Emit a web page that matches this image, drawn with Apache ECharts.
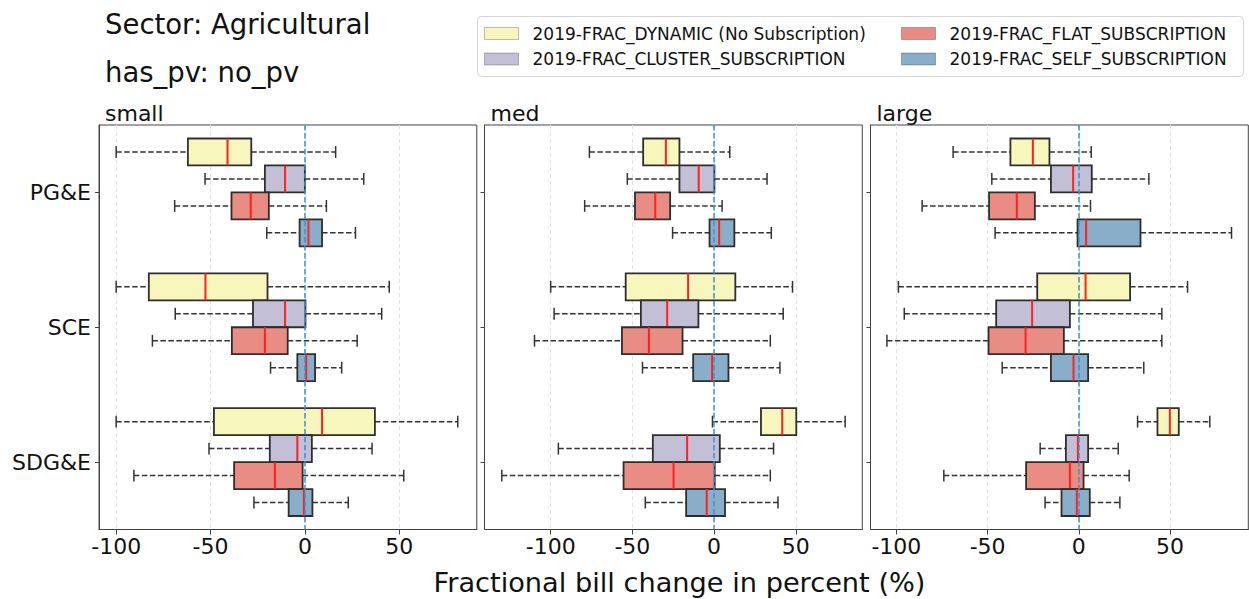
<!DOCTYPE html>
<html>
<head>
<meta charset="utf-8">
<script src="https://cdn.jsdelivr.net/npm/echarts@6/dist/echarts.min.js"></script>
<style>
  html, body { margin: 0; padding: 0; background: #fff; }
  #chart { width: 1249px; height: 599px; }
</style>
</head>
<body>
<div id="chart"></div>
<script>
// ---------------- data ----------------
const categories = ['PG&E', 'SCE', 'SDG&E'];
const panelNames = ['small', 'med', 'large'];
const seriesNames = [
  '2019-FRAC_DYNAMIC (No Subscription)',
  '2019-FRAC_CLUSTER_SUBSCRIPTION',
  '2019-FRAC_FLAT_SUBSCRIPTION',
  '2019-FRAC_SELF_SUBSCRIPTION'
];
const xAxisTitle = 'Fractional bill change in percent (%)';
const mainTitle = 'Sector: Agricultural';
const subTitle = 'has_pv: no_pv';
const xMin = [-109.1, -140.5, -114.2];
const xMax = [91.1, 90.7, 92.9];

// each row: [min, q1, median, q3, max] for PG&E, SCE, SDG&E
const smallDynamic = [[-100, -62, -41, -28.4, 16.3], [-100, -82.7, -52.7, -19.8, 44.7], [-100, -48.2, 9.1, 37.1, 81]];
const smallCluster = [[-52.9, -21.2, -10.5, 0, 31.2], [-68.7, -27.5, -10.5, 0.3, 40.7], [-50.8, -18.6, -4, 3.7, 35.6]];
const smallFlat = [[-69, -38.9, -28.7, -19.1, 11.4], [-80.8, -38.7, -21.2, -9.1, 27.7], [-90.6, -37.5, -15.9, -1.2, 52.4]];
const smallSelf = [[-20.2, -2.8, 1.9, 9.1, 26.8], [-18.2, -4, 0.7, 5.4, 19.5], [-27, -8.6, -0.5, 4, 23]];

const medDynamic = [[-76.3, -43.4, -29.5, -21.2, 9.6], [-100, -54.1, -15.9, 13, 48], [-1, 28.7, 41.7, 50.3, 80.2]];
const medCluster = [[-53.1, -21.2, -9.4, 0.2, 32.4], [-97.9, -44.8, -28.7, -9.6, 42.3], [-95.3, -37.5, -16.5, 3.5, 36.4]];
const medFlat = [[-79.2, -48.4, -36, -26.9, 4.9], [-109.9, -56.4, -39.9, -19.3, 34.4], [-129.9, -55.4, -24.8, 0.4, 34.4]];
const medSelf = [[-25.4, -2.8, 3.1, 12.4, 35], [-43.8, -12.8, -1.2, 8.8, 40.3], [-42.1, -17.1, -4.5, 6.7, 39.1]];

const largeDynamic = [[-68.9, -37.5, -25.2, -16.1, 6.8], [-98.9, -22.8, 3.7, 28.1, 59.6], [32.2, 43.1, 49.9, 54.8, 71.8]];
const largeCluster = [[-47.7, -15.3, -3.1, 7.1, 38.4], [-95.7, -45.3, -25.6, -4.9, 45.5], [-21.2, -7.1, -0.5, 5.1, 21.6]];
const largeFlat = [[-85.9, -49.2, -34, -24.1, 6.4], [-105.2, -49.5, -29.2, -8.2, 45.5], [-74, -28.9, -4.9, 2.6, 27.6]];
const largeSelf = [[-45.9, -0.7, 4, 33.8, 83.7], [-42, -15.3, -2.9, 5.1, 35.6], [-18.5, -9.5, -1.1, 6, 22.5]];

// ---------------- style ----------------
const FONT = 'DejaVu Sans';
const fills = ['#f6f6bd', '#c2bfd7', '#e98c84', '#89aec9'];
const panelData = [
  [smallDynamic, smallCluster, smallFlat, smallSelf],
  [medDynamic, medCluster, medFlat, medSelf],
  [largeDynamic, largeCluster, largeFlat, largeSelf]
];
const gridLefts = [99, 484.5, 870.5];
const GRID_TOP = 125, GRID_H = 404.5, GRID_W = 377.8;

function makeRender(sIdx, color) {
  return function (params, api) {
    const cat = api.value(0);
    const center = api.coord([0, cat]);
    const band = api.size([0, 1])[1];
    const h = band * 0.2;
    const yc = center[1] + (sIdx - 1.5) * h;
    const px = function (i) { return api.coord([api.value(i), cat])[0]; };
    const xmin = px(1), xq1 = px(2), xmed = px(3), xq3 = px(4), xmax = px(5);
    const cap = h * 0.22;
    const dash = function () { return { stroke: '#333', lineWidth: 1.5, lineDash: [5.5, 2.5], fill: null }; };
    const solid = function () { return { stroke: '#333', lineWidth: 1.5, fill: null }; };
    return {
      type: 'group',
      children: [
        { type: 'line', shape: { x1: xmin, y1: yc, x2: xq1, y2: yc }, style: dash() },
        { type: 'line', shape: { x1: xq3, y1: yc, x2: xmax, y2: yc }, style: dash() },
        { type: 'line', shape: { x1: xmin, y1: yc - cap, x2: xmin, y2: yc + cap }, style: solid() },
        { type: 'line', shape: { x1: xmax, y1: yc - cap, x2: xmax, y2: yc + cap }, style: solid() },
        { type: 'rect', shape: { x: xq1, y: yc - h / 2, width: xq3 - xq1, height: h },
          style: { fill: color, stroke: '#2e2e2e', lineWidth: 1.8 } },
        { type: 'line', shape: { x1: xmed, y1: yc - h / 2, x2: xmed, y2: yc + h / 2 },
          style: { stroke: '#ff2020', lineWidth: 2 } }
      ]
    };
  };
}

const grids = [], xAxes = [], yAxes = [], series = [];
for (let p = 0; p < 3; p++) {
  grids.push({ left: gridLefts[p], top: GRID_TOP, width: GRID_W, height: GRID_H,
    show: true, borderColor: '#444', borderWidth: 1, backgroundColor: 'transparent' });
  xAxes.push({
    type: 'value', gridIndex: p, min: xMin[p], max: xMax[p], minInterval: 50, maxInterval: 50,
    axisLine: { show: true, onZero: false, lineStyle: { color: '#444', width: 1 } },
    axisTick: { show: true, length: 5, lineStyle: { color: '#444' } },
    axisLabel: { show: true, fontSize: 22, fontFamily: FONT, color: '#111', margin: 6,
      showMinLabel: false, showMaxLabel: false },
    splitLine: { show: true, showMinLine: false, showMaxLine: false,
      lineStyle: { color: '#e2e2e2', type: [4, 3], width: 1 } }
  });
  yAxes.push({
    type: 'category', gridIndex: p, data: categories, inverse: true, boundaryGap: true,
    axisLine: { show: true, onZero: false, lineStyle: { color: '#444', width: 1 } },
    axisTick: { show: true, alignWithLabel: true, length: 4, lineStyle: { color: '#444' } },
    axisLabel: { show: p === 0, fontSize: 22, fontFamily: FONT, color: '#111', margin: 8 },
    splitLine: { show: false }
  });
  for (let s = 0; s < 4; s++) {
    const arr = panelData[p][s];
    const ser = {
      type: 'custom',
      name: seriesNames[s],
      xAxisIndex: p,
      yAxisIndex: p,
      itemStyle: { color: fills[s] },
      encode: { y: 0, x: [1, 2, 3, 4, 5] },
      renderItem: makeRender(s, fills[s]),
      data: categories.map(function (c, i) { return [i].concat(arr[i]); }),
      z: 2
    };
    if (s === 0) {
      ser.markLine = {
        silent: true, symbol: ['none', 'none'], label: { show: false },
        lineStyle: { color: '#3a8fd4', type: [5.5, 2.5], width: 1.5 },
        emphasis: { disabled: true },
        data: [{ xAxis: 0 }]
      };
    }
    series.push(ser);
  }
}

const legendCommon = {
  orient: 'vertical', top: 25, padding: 0, itemWidth: 34, itemHeight: 12, itemGap: 8.5,
  icon: 'rect', selectedMode: false,
  itemStyle: { borderColor: 'rgba(0,0,0,0.25)', borderWidth: 1 },
  textStyle: { fontSize: 17, fontFamily: FONT, color: '#111', padding: [0, 0, 0, 9] }
};

const textEl = function (x, y, text, size, align) {
  return { type: 'text', x: x, y: y, silent: true,
    style: { text: text, fontSize: size, fontFamily: FONT, fill: '#111', align: align || 'left', verticalAlign: 'middle' } };
};

const graphics = [
  { type: 'rect', z: -1, silent: true, shape: { x: 477.5, y: 16.5, width: 766, height: 60, r: 4 },
    style: { fill: '#fff', stroke: '#d4d4d4', lineWidth: 1 } },
  textEl(105, 24, mainTitle, 27.5),
  textEl(105, 72, subTitle, 27.5),
  textEl(679.5, 582, xAxisTitle, 27.2, 'center')
];
for (let p = 0; p < 3; p++) {
  graphics.push(textEl(gridLefts[p] + 6, 113.5, panelNames[p], 22));
}

const option = {
  animation: false,
  backgroundColor: '#fff',
  grid: grids,
  xAxis: xAxes,
  yAxis: yAxes,
  legend: [
    Object.assign({}, legendCommon, { left: 484, data: [seriesNames[0], seriesNames[1]] }),
    Object.assign({}, legendCommon, { left: 901, data: [seriesNames[2], seriesNames[3]] })
  ],
  graphic: graphics,
  series: series
};

const chart = echarts.init(document.getElementById('chart'), null, { renderer: 'svg' });
chart.setOption(option);
</script>
</body>
</html>
